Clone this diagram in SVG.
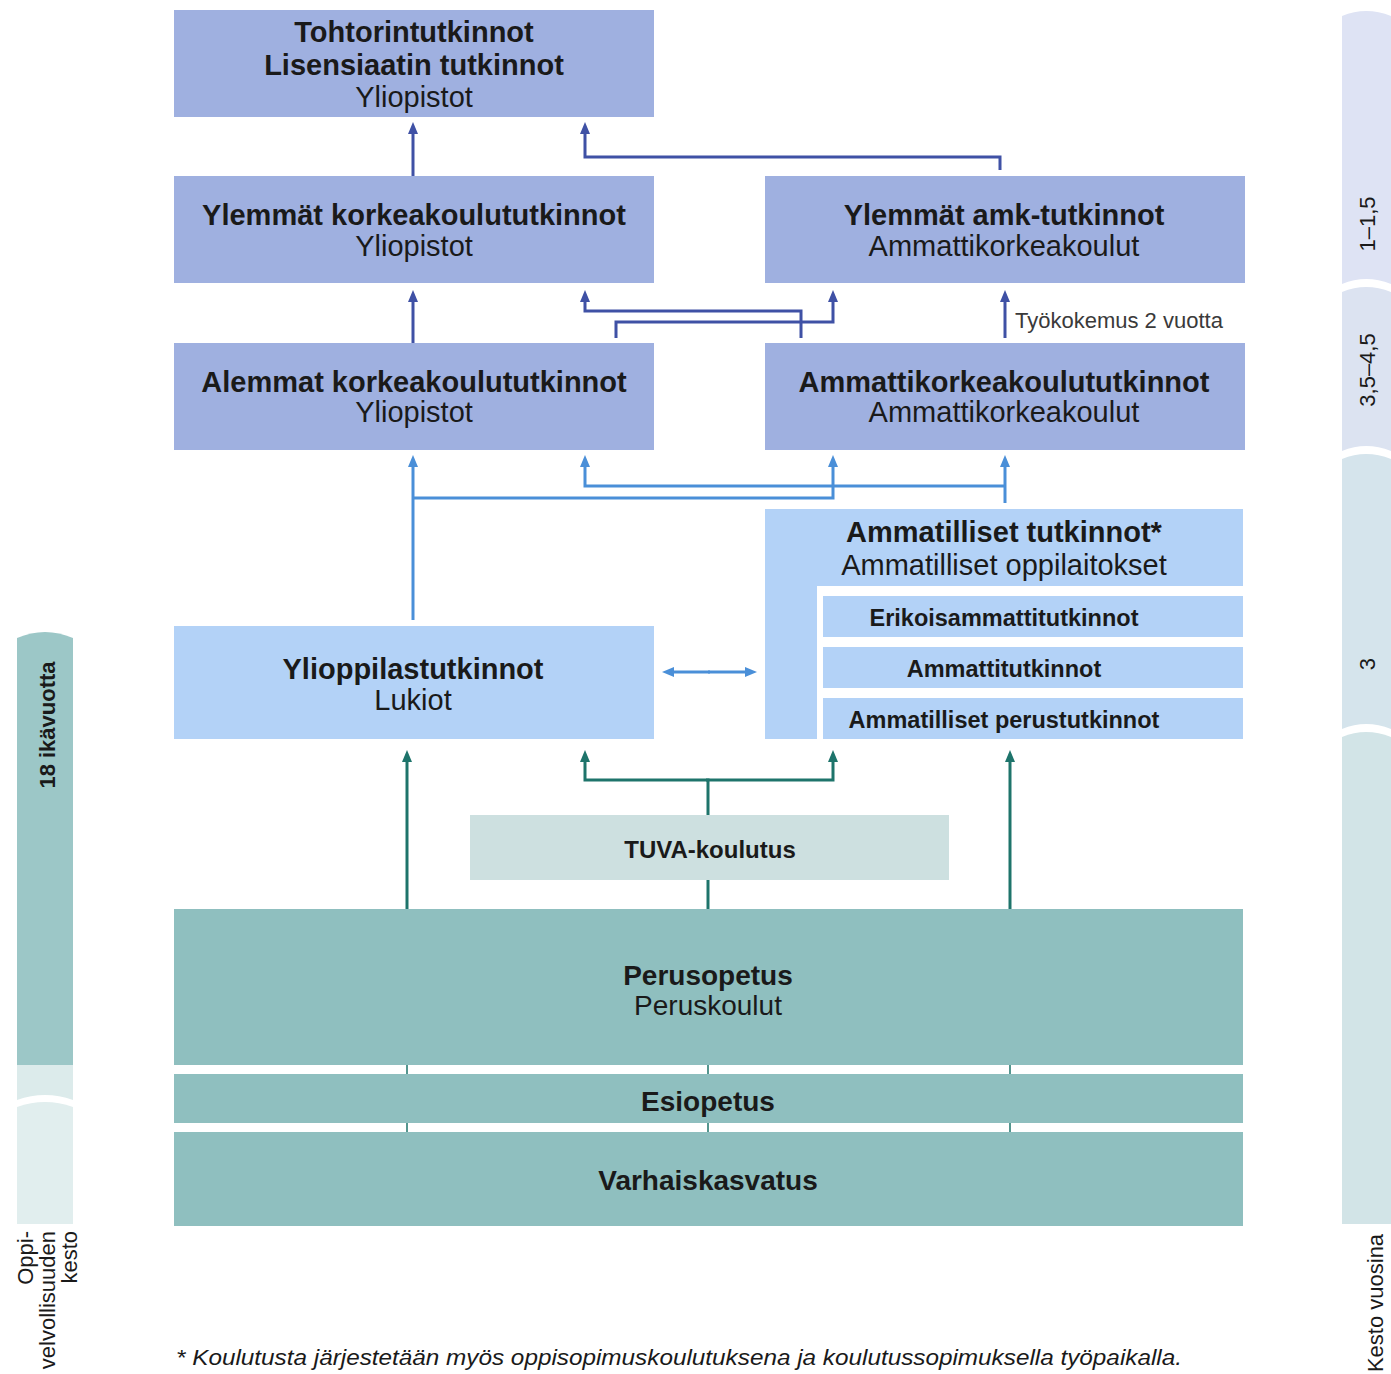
<svg xmlns="http://www.w3.org/2000/svg" width="1391" height="1374" viewBox="0 0 1391 1374">
<style>
.t{font-family:"Liberation Sans",Arial,sans-serif;fill:#1a1a1a;text-anchor:middle}
.b{font-weight:bold}
.s29{font-size:29px}
.s28{font-size:28px}
.s23{font-size:23.5px}
.s22{font-size:22px}
.dk{fill:#9fb0e0}
.lb{fill:#b3d2f7}
.tl{fill:#8fbfbf}
.cb{fill:none;stroke:#3f51a5;stroke-width:3}
.cl{fill:none;stroke:#4a8fd8;stroke-width:3}
.ct{fill:none;stroke:#1e746b;stroke-width:3}
.tick{fill:none;stroke:#1e746b;stroke-width:1.5}
</style>
<defs>
<marker id="ab" viewBox="0 0 12 10" refX="0" refY="5" markerWidth="12" markerHeight="10" markerUnits="userSpaceOnUse" orient="auto" preserveAspectRatio="none"><path d="M0,0 L12,5 L0,10 z" fill="#3f51a5"/></marker>
<marker id="al" viewBox="0 0 12 10" refX="0" refY="5" markerWidth="12" markerHeight="10" markerUnits="userSpaceOnUse" orient="auto" preserveAspectRatio="none"><path d="M0,0 L12,5 L0,10 z" fill="#4a8fd8"/></marker>
<marker id="at" viewBox="0 0 12 10" refX="0" refY="5" markerWidth="12" markerHeight="10" markerUnits="userSpaceOnUse" orient="auto" preserveAspectRatio="none"><path d="M0,0 L12,5 L0,10 z" fill="#1e746b"/></marker>
</defs>
<rect width="1391" height="1374" fill="#ffffff"/>

<!-- right duration bar -->
<g id="duration-bar">
<path d="M1342,16 Q1366,6 1391,16 V284 Q1366,274 1342,284 Z" fill="#dee3f4"/>
<path d="M1342,292 Q1366,282 1391,292 V451 Q1366,441 1342,451 Z" fill="#dce3f1"/>
<path d="M1342,459 Q1366,449 1391,459 V729 Q1366,719 1342,729 Z" fill="#d5e4ec"/>
<path d="M1342,737 Q1366,727 1391,737 V1224 H1342 Z" fill="#d2e4e7"/>
<text class="t s22" transform="translate(1375,224) rotate(-90)">1–1,5</text>
<text class="t s22" transform="translate(1375,370) rotate(-90)">3,5–4,5</text>
<text class="t s22" transform="translate(1375,664) rotate(-90)">3</text>
<text class="t s22" transform="translate(1383,1303) rotate(-90)">Kesto vuosina</text>
</g>

<!-- left compulsory education bar -->
<g id="compulsory-bar">
<path d="M17,638 Q45,626 73,638 V1065 H17 Z" fill="#9cc7c7"/>
<path d="M17,1065 H73 V1100 Q45,1090 17,1100 Z" fill="#dcebeb"/>
<path d="M17,1107 Q45,1097 73,1107 V1224 H17 Z" fill="#e1eeee"/>
<text class="t b s22" transform="translate(55,725) rotate(-90)">18 ikävuotta</text>
<text class="t s22" style="text-anchor:end" transform="translate(33,1231) rotate(-90)">Oppi-</text>
<text class="t s22" style="text-anchor:end" transform="translate(55,1231) rotate(-90)">velvollisuuden</text>
<text class="t s22" style="text-anchor:end" transform="translate(77,1231) rotate(-90)">kesto</text>
</g>

<g id="tohtori">
<rect class="dk" x="174" y="10" width="480" height="107"/>
<text class="t b s29" x="414" y="42">Tohtorintutkinnot</text>
<text class="t b s29" x="414" y="75">Lisensiaatin tutkinnot</text>
<text class="t s29" x="414" y="107">Yliopistot</text>
</g>
<g id="ylemmat-kk">
<rect class="dk" x="174" y="176" width="480" height="107"/>
<text class="t b s29" x="414" y="225">Ylemmät korkeakoulututkinnot</text>
<text class="t s29" x="414" y="256">Yliopistot</text>
</g>
<g id="ylemmat-amk">
<rect class="dk" x="765" y="176" width="480" height="107"/>
<text class="t b s29" x="1004" y="225">Ylemmät amk-tutkinnot</text>
<text class="t s29" x="1004" y="256">Ammattikorkeakoulut</text>
</g>
<g id="alemmat-kk">
<rect class="dk" x="174" y="343" width="480" height="107"/>
<text class="t b s29" x="414" y="392">Alemmat korkeakoulututkinnot</text>
<text class="t s29" x="414" y="422">Yliopistot</text>
</g>
<g id="amk">
<rect class="dk" x="765" y="343" width="480" height="107"/>
<text class="t b s29" x="1004" y="392">Ammattikorkeakoulututkinnot</text>
<text class="t s29" x="1004" y="422">Ammattikorkeakoulut</text>
</g>
<g id="ammatilliset">
<path class="lb" d="M765,509 H1243 V586 H817 V739 H765 Z"/>
<text class="t b s29" x="1004" y="542">Ammatilliset tutkinnot*</text>
<text class="t s29" x="1004" y="575">Ammatilliset oppilaitokset</text>
</g>
<g id="erikoisammatti">
<rect class="lb" x="823" y="596" width="420" height="41"/>
<text class="t b s23" x="1004" y="626">Erikoisammattitutkinnot</text>
</g>
<g id="ammatti">
<rect class="lb" x="823" y="647" width="420" height="41"/>
<text class="t b s23" x="1004" y="677">Ammattitutkinnot</text>
</g>
<g id="perustutkinnot">
<rect class="lb" x="823" y="698" width="420" height="41"/>
<text class="t b s23" x="1004" y="728">Ammatilliset perustutkinnot</text>
</g>
<g id="ylioppilas">
<rect class="lb" x="174" y="626" width="480" height="113"/>
<text class="t b s29" x="413" y="679">Ylioppilastutkinnot</text>
<text class="t s29" x="413" y="710">Lukiot</text>
</g>
<g id="tuva">
<rect x="470" y="815" width="479" height="65" fill="#cde0e0"/>
<text class="t b" style="font-size:24px" x="710" y="858">TUVA-koulutus</text>
</g>
<g id="perusopetus">
<rect class="tl" x="174" y="909" width="1069" height="156"/>
<text class="t b s28" x="708" y="985">Perusopetus</text>
<text class="t s28" x="708" y="1015">Peruskoulut</text>
</g>
<g id="esiopetus">
<rect class="tl" x="174" y="1074" width="1069" height="49"/>
<text class="t b s28" x="708" y="1111">Esiopetus</text>
</g>
<g id="varhaiskasvatus">
<rect class="tl" x="174" y="1132" width="1069" height="94"/>
<text class="t b s28" x="708" y="1190">Varhaiskasvatus</text>
</g>

<g id="connectors">
<path class="cb" d="M413,176 V134" marker-end="url(#ab)"/>
<path class="cb" d="M1000,170 V157 H585 V134" marker-end="url(#ab)"/>
<path class="cb" d="M413,343 V302" marker-end="url(#ab)"/>
<path class="cb" d="M801,338 V311 H585 V302" marker-end="url(#ab)"/>
<path class="cb" d="M616,338 V322 H833 V302" marker-end="url(#ab)"/>
<path class="cb" d="M1005,338 V302" marker-end="url(#ab)"/>
<text x="1015" y="328" style="font-family:'Liberation Sans',Arial,sans-serif;font-size:22px;fill:#3a3a3a">Työkokemus 2 vuotta</text>

<path class="cl" d="M413,620 V467" marker-end="url(#al)"/>
<path class="cl" d="M413,498 H833 V467" marker-end="url(#al)"/>
<path class="cl" d="M1005,503 V467" marker-end="url(#al)"/>
<path class="cl" d="M1005,486 H585 V467" marker-end="url(#al)"/>
<path class="cl" d="M710,672 H674" marker-end="url(#al)"/>
<path class="cl" d="M708,672 H745" marker-end="url(#al)"/>

<path class="ct" d="M407,909 V762" marker-end="url(#at)"/>
<path class="ct" d="M1010,909 V762" marker-end="url(#at)"/>
<path class="ct" d="M708,815 V780 H585 V762" marker-end="url(#at)"/>
<path class="ct" d="M706,780 H833 V762" marker-end="url(#at)"/>
<path class="ct" d="M708,880 V909"/>
<path class="tick" d="M407,1065 V1074 M708,1065 V1074 M1010,1065 V1074 M407,1123 V1132 M708,1123 V1132 M1010,1123 V1132"/>
</g>

<text x="176" y="1365" style="font-family:'Liberation Sans',Arial,sans-serif;font-size:22px;font-style:italic;fill:#1a1a1a" textLength="1006" lengthAdjust="spacingAndGlyphs">* Koulutusta järjestetään myös oppisopimuskoulutuksena ja koulutussopimuksella työpaikalla.</text>
</svg>
